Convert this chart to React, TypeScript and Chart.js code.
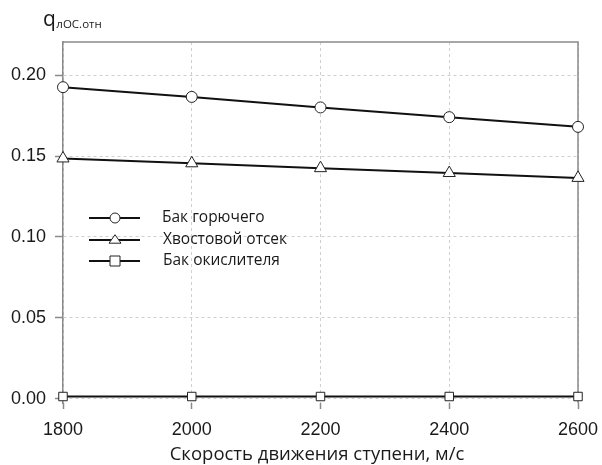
import React, { useEffect, useRef } from "react";
import { Chart, registerables } from "chart.js";

Chart.register(...registerables);

const speeds = [1800, 2000, 2200, 2400, 2600];
const fuelTank = [0.1925, 0.1865, 0.18, 0.174, 0.168];
const tailSection = [0.1485, 0.1455, 0.1425, 0.1395, 0.1365];
const oxidizerTank = [0.0015, 0.0015, 0.0015, 0.0015, 0.0015];
const yTicks = [0, 0.05, 0.1, 0.15, 0.2];
const seriesNames = ["Бак горючего", "Хвостовой отсек", "Бак окислителя"];
const markerStyles = ["circle", "triangle", "rect"];
const xTitle = "Скорость движения ступени, м/с";
const yTitleMain = "q";
const yTitleSub = "лОС.отн";

const FRAME = "#8a8a8a";
const GRID = "#cfcfcf";
const TEXT = "#1a1a1a";

const drawMarker = (ctx: CanvasRenderingContext2D, style: string, x: number, y: number, r: number) => {
  ctx.beginPath();
  if (style === "circle") {
    ctx.arc(x, y, r, 0, Math.PI * 2);
  } else if (style === "triangle") {
    const h = r * 1.6;
    ctx.moveTo(x, y - h * 0.66);
    ctx.lineTo(x + r * 1.2, y + h * 0.4);
    ctx.lineTo(x - r * 1.2, y + h * 0.4);
    ctx.closePath();
  } else {
    ctx.rect(x - r, y - r, r * 2, r * 2);
  }
  ctx.fillStyle = "#fff";
  ctx.fill();
  ctx.strokeStyle = "#222";
  ctx.lineWidth = 1;
  ctx.stroke();
};

const framePlugin = {
  id: "frame",
  beforeDatasetsDraw(chart: any) {
    const { ctx, chartArea } = chart;
    ctx.save();
    ctx.strokeStyle = FRAME;
    ctx.lineWidth = 1.5;
    ctx.beginPath();
    ctx.moveTo(chartArea.left, chartArea.top);
    ctx.lineTo(chartArea.right, chartArea.top);
    ctx.lineTo(chartArea.right, chartArea.bottom);
    ctx.stroke();
    ctx.restore();
  },
  afterDraw(chart: any) {
    const { ctx } = chart;
    ctx.save();
    const legendY = [218, 240, 261];
    seriesNames.forEach((name, i) => {
      const y = legendY[i];
      ctx.strokeStyle = "#111";
      ctx.lineWidth = 2;
      ctx.beginPath();
      ctx.moveTo(89, y);
      ctx.lineTo(140, y);
      ctx.stroke();
      drawMarker(ctx, markerStyles[i], 115, y, 5);
      ctx.fillStyle = TEXT;
      ctx.font = "15.5px 'Open Sans'";
      ctx.textBaseline = "middle";
      ctx.textAlign = "left";
      ctx.fillText(name, i === 0 ? 162 : 163, y);
    });
    ctx.font = "18.5px 'Open Sans'";
    ctx.textAlign = "center";
    ctx.textBaseline = "middle";
    ctx.fillStyle = TEXT;
    ctx.fillText(xTitle, 317, 455);
    ctx.textAlign = "left";
    ctx.textBaseline = "alphabetic";
    ctx.font = "21px 'Open Sans'";
    ctx.fillText(yTitleMain, 43, 26);
    const w = ctx.measureText(yTitleMain).width;
    ctx.font = "11.5px 'Open Sans'";
    ctx.fillText(yTitleSub, 43 + w + 0.5, 28);
    ctx.restore();
  },
};

export default function App() {
  const ref = useRef<HTMLCanvasElement>(null);
  useEffect(() => {
    document.body.style.margin = "0";
    const common = {
      borderColor: "#111",
      borderWidth: 2,
      pointBackgroundColor: "#fff",
      pointBorderColor: "#222",
      pointBorderWidth: 1,
      clip: false as any,
    };
    const chart = new Chart(ref.current!, {
      type: "line",
      data: {
        labels: speeds,
        datasets: [
          { ...common, label: seriesNames[0], data: speeds.map((x, i) => ({ x, y: fuelTank[i] })), pointStyle: "circle", pointRadius: 5.5 },
          { ...common, label: seriesNames[1], data: speeds.map((x, i) => ({ x, y: tailSection[i] })), pointStyle: "triangle", pointRadius: 7 },
          { ...common, label: seriesNames[2], data: speeds.map((x, i) => ({ x, y: oxidizerTank[i] })), pointStyle: "rect", pointRadius: 6 },
        ],
      },
      options: {
        animation: false,
        responsive: false,
        layout: { padding: { top: 42, right: 24, left: 0, bottom: 0 } },
        plugins: { legend: { display: false }, tooltip: { enabled: false } },
        scales: {
          x: {
            type: "linear",
            min: 1800,
            max: 2600,
            afterFit: (s: any) => { s.height = 62; s.paddingRight = 0; s.paddingLeft = 0; },
            afterBuildTicks: (s: any) => { s.ticks = speeds.map((v) => ({ value: v })); },
            ticks: { color: TEXT, font: { family: "'Liberation Sans', Arial", size: 18 }, padding: 10, maxRotation: 0, callback: (v: any) => String(v) },
            grid: { color: GRID, tickColor: FRAME, tickLength: 6, tickBorderDash: [], lineWidth: 1, tickWidth: 1.5 } as any,
            border: { display: false, dash: [3, 3] } as any,
          },
          y: {
            type: "linear",
            min: -0.0025,
            max: 0.2204,
            afterFit: (s: any) => { s.width = 63; s.paddingTop = 0; s.paddingBottom = 0; },
            afterBuildTicks: (s: any) => { s.ticks = yTicks.map((v) => ({ value: v })); },
            ticks: { color: TEXT, font: { family: "'Liberation Sans', Arial", size: 18 }, padding: 9, callback: (v: any) => Number(v).toFixed(2) },
            grid: { color: GRID, tickColor: FRAME, tickLength: 8, tickBorderDash: [], lineWidth: 1, tickWidth: 1.5 } as any,
            border: { display: true, color: FRAME, width: 1.5, dash: [3, 3] } as any,
          },
        },
      },
      plugins: [framePlugin],
    });
    return () => chart.destroy();
  }, []);
  return <canvas ref={ref} width={602} height={465} style={{ display: "block" }} />;
}
